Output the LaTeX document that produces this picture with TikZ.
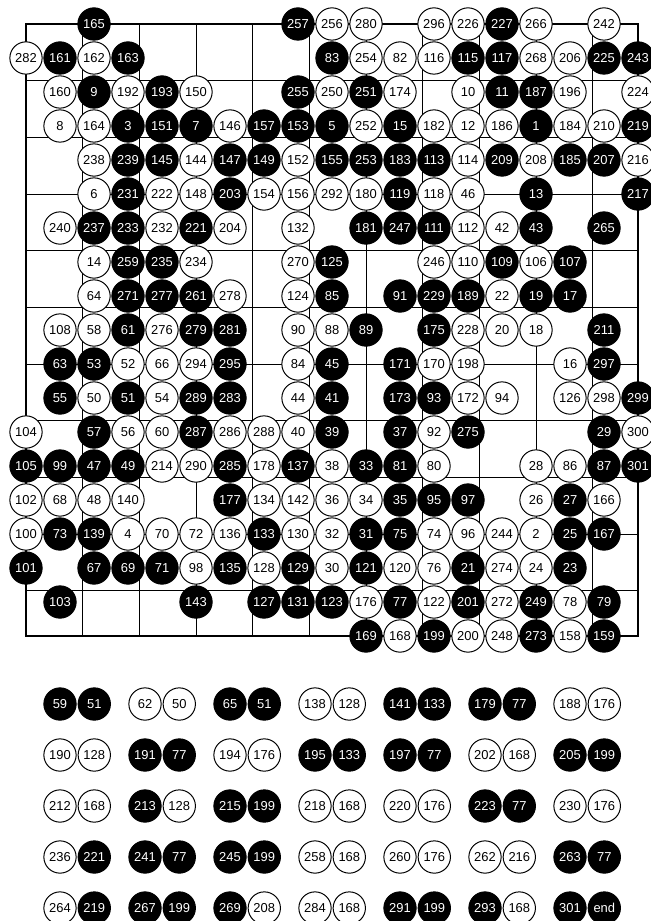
\documentclass[tikz,border=0pt]{standalone}
\usepackage{fontspec}
\setmainfont{Liberation Sans}
\usetikzlibrary{positioning}

\begin{document}
\begin{tikzpicture}[x=0.6cm, y=0.6cm,
    every node/.style={font=\fontsize{6.5}{7}\selectfont},
    stonebase/.style={circle, draw, line width=0.5pt, minimum size=0.57cm, inner sep=0pt},
    bstone/.style={stonebase, fill=black, text=white},
    wstone/.style={stonebase, fill=white, text=black},
    stone/.code={\ifodd#1\relax\tikzset{bstone}\else\tikzset{wstone}\fi},
  ]
  \useasboundingbox (-0.7647,0.7059) rectangle (18.353,-26.382);

  % board
  \draw[line width=0.5pt] (0,0) grid (18,-18);
  \draw[line width=1pt] (0,0) rectangle (18,-18);

  % moves on the board, row by row (column/move)
  \foreach \r/\row in {
    1/{3/165,9/257,10/256,11/280,13/296,14/226,15/227,16/266,18/242},
    2/{1/282,2/161,3/162,4/163,10/83,11/254,12/82,13/116,14/115,15/117,16/268,17/206,18/225,19/243},
    3/{2/160,3/9,4/192,5/193,6/150,9/255,10/250,11/251,12/174,14/10,15/11,16/187,17/196,19/224},
    4/{2/8,3/164,4/3,5/151,6/7,7/146,8/157,9/153,10/5,11/252,12/15,13/182,14/12,15/186,16/1,17/184,18/210,19/219},
    5/{3/238,4/239,5/145,6/144,7/147,8/149,9/152,10/155,11/253,12/183,13/113,14/114,15/209,16/208,17/185,18/207,19/216},
    6/{3/6,4/231,5/222,6/148,7/203,8/154,9/156,10/292,11/180,12/119,13/118,14/46,16/13,19/217},
    7/{2/240,3/237,4/233,5/232,6/221,7/204,9/132,11/181,12/247,13/111,14/112,15/42,16/43,18/265},
    8/{3/14,4/259,5/235,6/234,9/270,10/125,13/246,14/110,15/109,16/106,17/107},
    9/{3/64,4/271,5/277,6/261,7/278,9/124,10/85,12/91,13/229,14/189,15/22,16/19,17/17},
    10/{2/108,3/58,4/61,5/276,6/279,7/281,9/90,10/88,11/89,13/175,14/228,15/20,16/18,18/211},
    11/{2/63,3/53,4/52,5/66,6/294,7/295,9/84,10/45,12/171,13/170,14/198,17/16,18/297},
    12/{2/55,3/50,4/51,5/54,6/289,7/283,9/44,10/41,12/173,13/93,14/172,15/94,17/126,18/298,19/299},
    13/{1/104,3/57,4/56,5/60,6/287,7/286,8/288,9/40,10/39,12/37,13/92,14/275,18/29,19/300},
    14/{1/105,2/99,3/47,4/49,5/214,6/290,7/285,8/178,9/137,10/38,11/33,12/81,13/80,16/28,17/86,18/87,19/301},
    15/{1/102,2/68,3/48,4/140,7/177,8/134,9/142,10/36,11/34,12/35,13/95,14/97,16/26,17/27,18/166},
    16/{1/100,2/73,3/139,4/4,5/70,6/72,7/136,8/133,9/130,10/32,11/31,12/75,13/74,14/96,15/244,16/2,17/25,18/167},
    17/{1/101,3/67,4/69,5/71,6/98,7/135,8/128,9/129,10/30,11/121,12/120,13/76,14/21,15/274,16/24,17/23},
    18/{2/103,6/143,8/127,9/131,10/123,11/176,12/77,13/122,14/201,15/272,16/249,17/78,18/79},
    19/{11/169,12/168,13/199,14/200,15/248,16/273,17/158,18/159}}{
    \foreach \c/\n in \row
      \node[stone=\n] (m\n) at (\c-1,1-\r) {\n};
  }

  % moves played where a stone already stood (move/at)
  \foreach \j/\pairs in {
    0/{59/51,62/50,65/51,138/128,141/133,179/77,188/176},
    1/{190/128,191/77,194/176,195/133,197/77,202/168,205/199},
    2/{212/168,213/128,215/199,218/168,220/176,223/77,230/176},
    3/{236/221,241/77,245/199,258/168,260/176,262/216,263/77},
    4/{264/219,267/199,269/208,284/168,291/199,293/168}}{
    \foreach \a/\b [count=\i from 0] in \pairs {
      \node[stone=\a] (v\j-\i) at (1+2.5*\i,-20-1.5*\j) {\a};
      \node[stone=\b, right=0.5pt of v\j-\i] (w\j-\i) {\b};
    }
  }
  \node[bstone] (v4-6) at (16,-26) {301};
  \node[bstone, right=0.5pt of v4-6] (w4-6) {end};
\end{tikzpicture}
\end{document}
